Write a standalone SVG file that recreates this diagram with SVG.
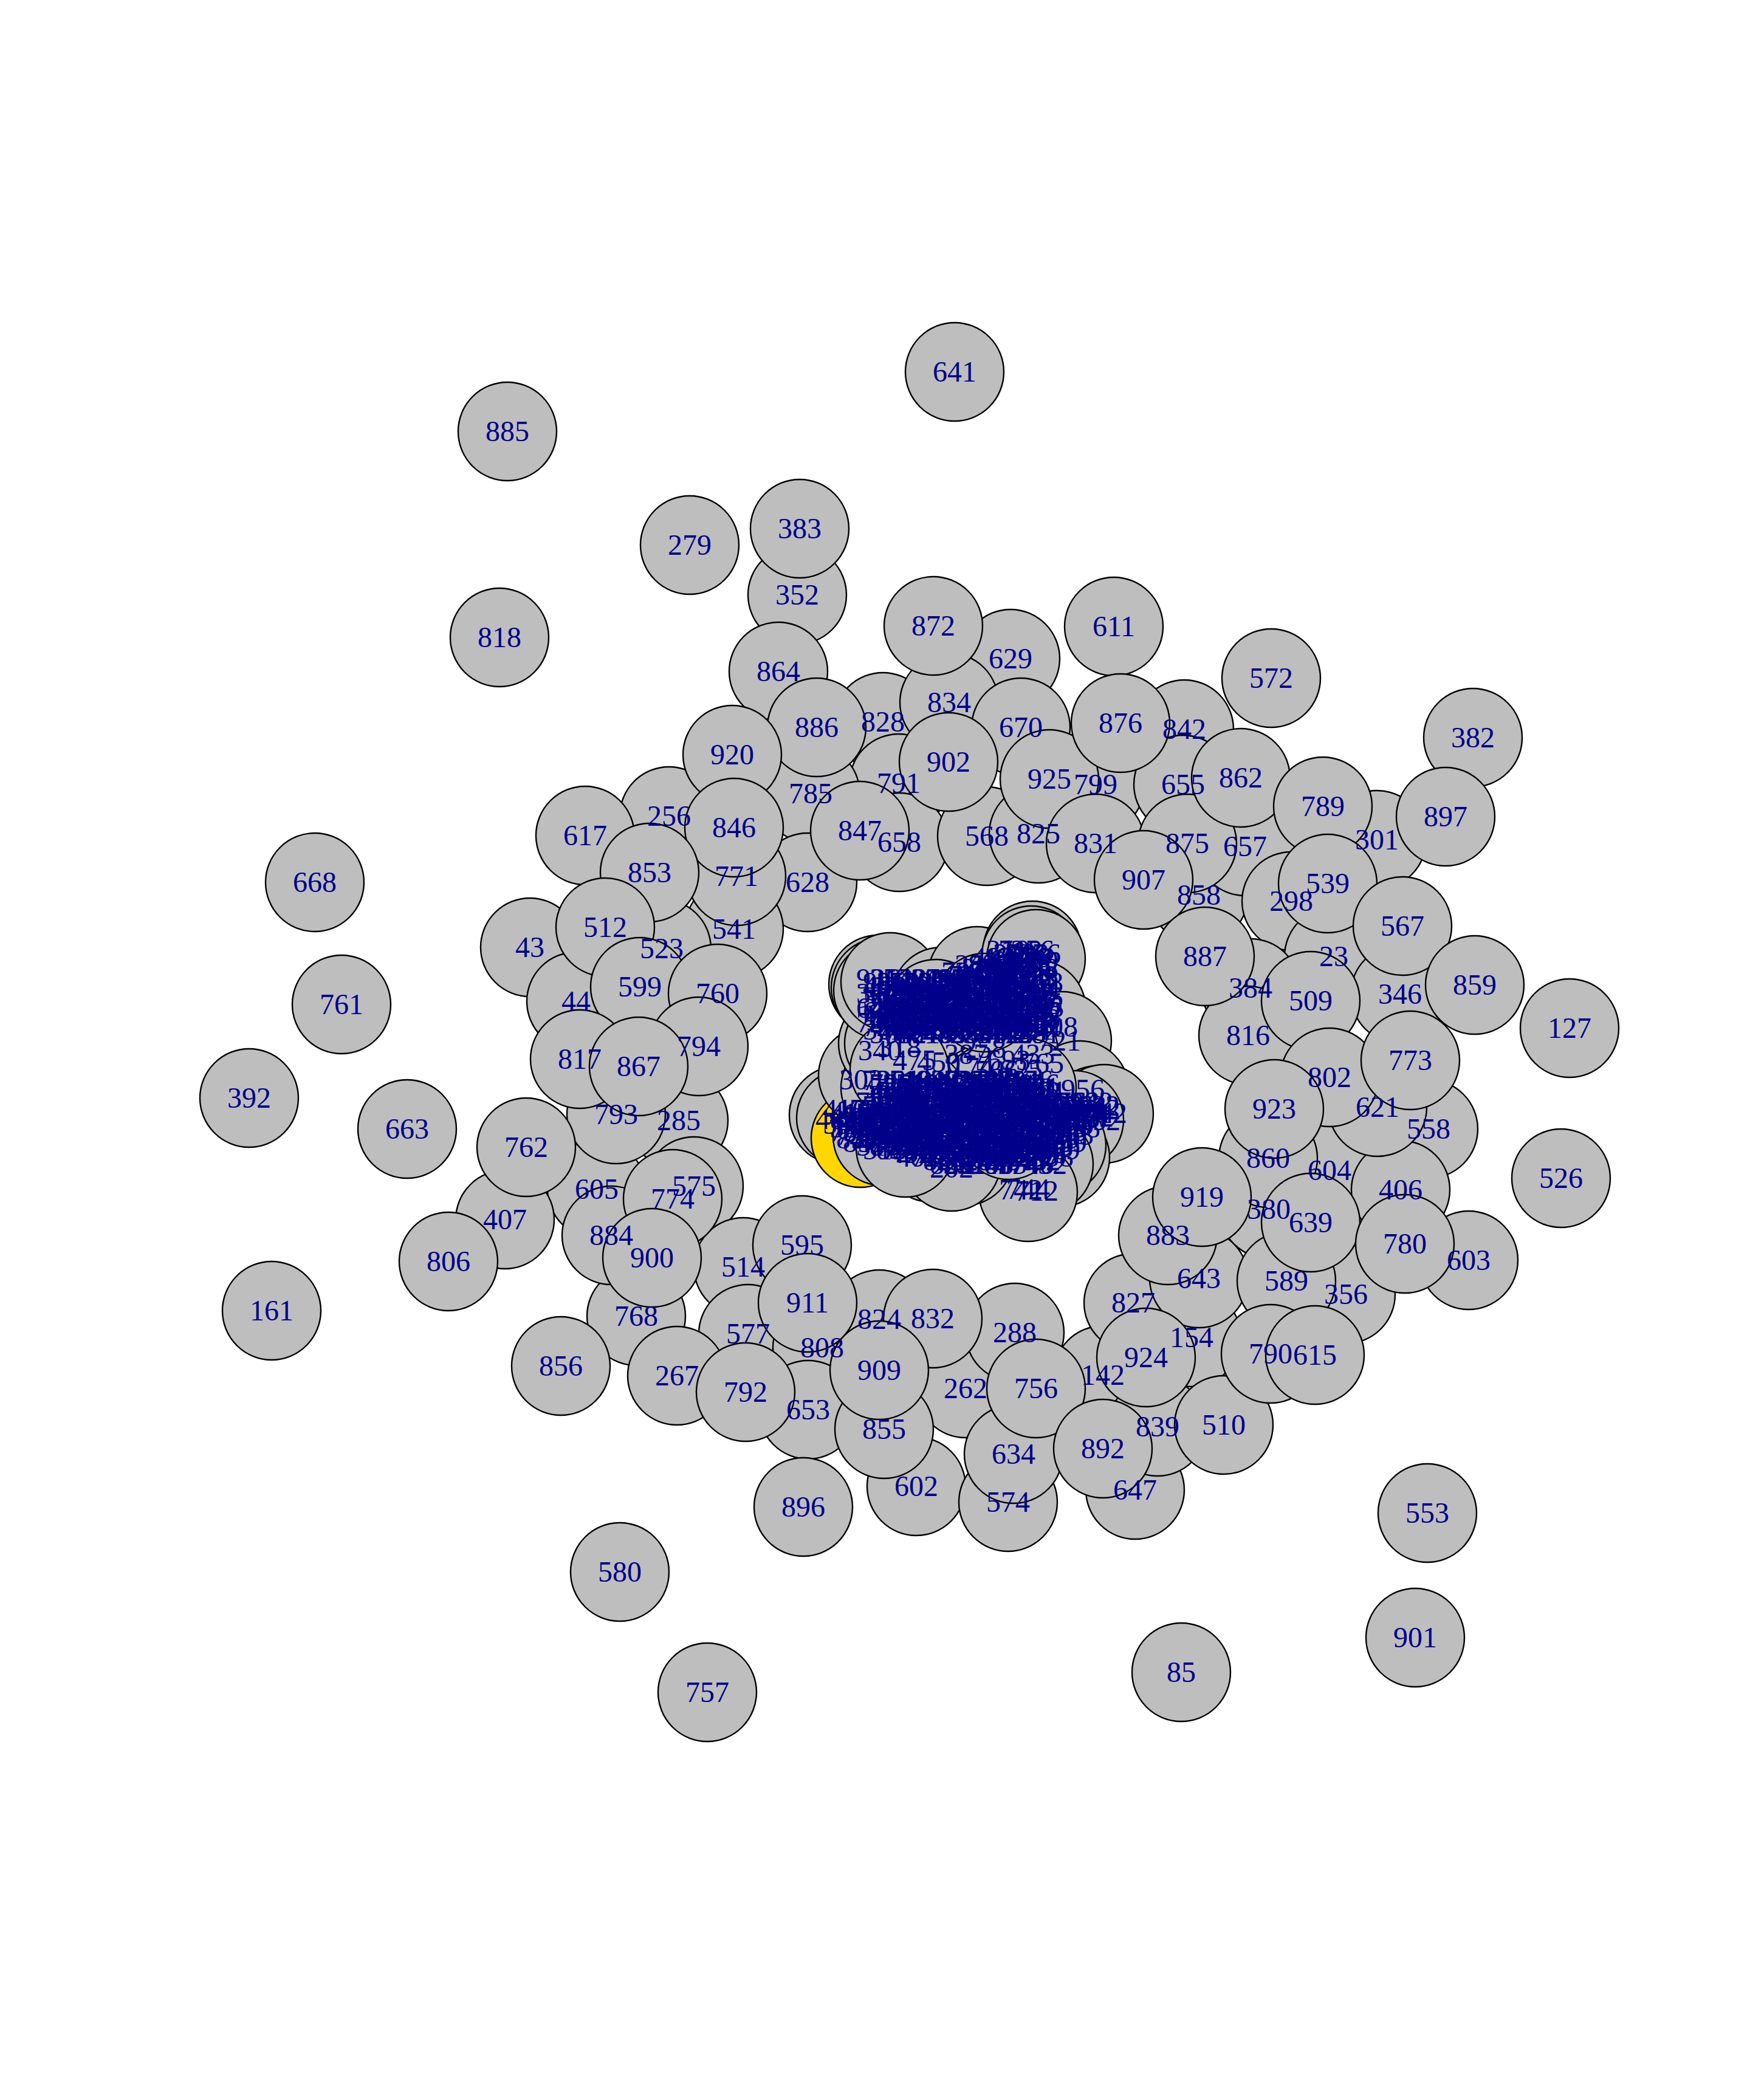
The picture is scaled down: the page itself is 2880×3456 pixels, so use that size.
<svg xmlns="http://www.w3.org/2000/svg" width="2880" height="3456" viewBox="0 0 2880 3456">
<style>
.v{fill:#BEBEBE;stroke:#000;stroke-width:2.4}
.g{fill:#FFD700;stroke:#000;stroke-width:2.4}
text{font-family:"Liberation Serif","Times New Roman",serif;font-size:48px;fill:#00008B;text-anchor:middle}
</style>
<rect width="2880" height="3456" fill="#fff"/>
<g id="edges"/>
<g id="nodes">
<g id="n352"><circle class="v" cx="1312" cy="979" r="81"/></g>
<g id="n828"><circle class="v" cx="1453" cy="1188" r="81"/></g>
<g id="n629"><circle class="v" cx="1663" cy="1084" r="81"/></g>
<g id="n791"><circle class="v" cx="1479" cy="1289" r="81"/></g>
<g id="n785"><circle class="v" cx="1334" cy="1306" r="81"/></g>
<g id="n799"><circle class="v" cx="1803" cy="1291" r="81"/></g>
<g id="n842"><circle class="v" cx="1949" cy="1200" r="81"/></g>
<g id="n655"><circle class="v" cx="1947" cy="1291" r="81"/></g>
<g id="n658"><circle class="v" cx="1480" cy="1386" r="81"/></g>
<g id="n628"><circle class="v" cx="1329" cy="1452" r="81"/></g>
<g id="n568"><circle class="v" cx="1624" cy="1376" r="81"/></g>
<g id="n858"><circle class="v" cx="1973" cy="1473" r="81"/></g>
<g id="n657"><circle class="v" cx="2049" cy="1393" r="81"/></g>
<g id="n301"><circle class="v" cx="2266" cy="1382" r="81"/></g>
<g id="n382"><circle class="v" cx="2424" cy="1214" r="81"/></g>
<g id="n298"><circle class="v" cx="2125" cy="1483" r="81"/></g>
<g id="n23"><circle class="v" cx="2195" cy="1574" r="81"/></g>
<g id="n346"><circle class="v" cx="2304" cy="1636" r="81"/></g>
<g id="n384"><circle class="v" cx="2058" cy="1626" r="81"/></g>
<g id="n256"><circle class="v" cx="1101" cy="1343" r="81"/></g>
<g id="n541"><circle class="v" cx="1208" cy="1529" r="81"/></g>
<g id="n771"><circle class="v" cx="1212" cy="1442" r="81"/></g>
<g id="n43"><circle class="v" cx="872" cy="1559" r="81"/></g>
<g id="n44"><circle class="v" cx="948" cy="1648" r="81"/></g>
<g id="n523"><circle class="v" cx="1089" cy="1561" r="81"/></g>
<g id="n285"><circle class="v" cx="1117" cy="1844" r="81"/></g>
<g id="n605"><circle class="v" cx="982" cy="1957" r="81"/></g>
<g id="n407"><circle class="v" cx="831" cy="2007" r="81"/></g>
<g id="n575"><circle class="v" cx="1142" cy="1952" r="81"/></g>
<g id="n768"><circle class="v" cx="1047" cy="2166" r="81"/></g>
<g id="n514"><circle class="v" cx="1223" cy="2085" r="81"/></g>
<g id="n577"><circle class="v" cx="1231" cy="2195" r="81"/></g>
<g id="n808"><circle class="v" cx="1353" cy="2218" r="81"/></g>
<g id="n824"><circle class="v" cx="1447" cy="2171" r="81"/></g>
<g id="n602"><circle class="v" cx="1508" cy="2446" r="81"/></g>
<g id="n653"><circle class="v" cx="1330" cy="2320" r="81"/></g>
<g id="n262"><circle class="v" cx="1589" cy="2285" r="81"/></g>
<g id="n288"><circle class="v" cx="1670" cy="2193" r="81"/></g>
<g id="n574"><circle class="v" cx="1659" cy="2472" r="81"/></g>
<g id="n647"><circle class="v" cx="1868" cy="2452" r="81"/></g>
<g id="n142"><circle class="v" cx="1815" cy="2263" r="81"/></g>
<g id="n154"><circle class="v" cx="1961" cy="2201" r="81"/></g>
<g id="n827"><circle class="v" cx="1865" cy="2144" r="81"/></g>
<g id="n643"><circle class="v" cx="1973" cy="2104" r="81"/></g>
<g id="n380"><circle class="v" cx="2088" cy="1990" r="81"/></g>
<g id="n604"><circle class="v" cx="2188" cy="1926" r="81"/></g>
<g id="n860"><circle class="v" cx="2087" cy="1906" r="81"/></g>
<g id="n558"><circle class="v" cx="2351" cy="1858" r="81"/></g>
<g id="n406"><circle class="v" cx="2305" cy="1958" r="81"/></g>
<g id="n356"><circle class="v" cx="2215" cy="2130" r="81"/></g>
<g id="n589"><circle class="v" cx="2117" cy="2108" r="81"/></g>
<g id="n816"><circle class="v" cx="2054" cy="1704" r="81"/></g>
<g id="n267"><circle class="v" cx="1114" cy="2264" r="81"/></g>
<g id="n634"><circle class="v" cx="1668" cy="2393" r="81"/></g>
<g id="n839"><circle class="v" cx="1905" cy="2348" r="81"/></g>
<g id="n603"><circle class="v" cx="2417" cy="2074" r="81"/></g>
<g id="n641"><circle class="v" cx="1571" cy="612" r="81"/></g>
<g id="n885"><circle class="v" cx="835" cy="710" r="81"/></g>
<g id="n279"><circle class="v" cx="1135" cy="897" r="81"/></g>
<g id="n818"><circle class="v" cx="822" cy="1049" r="81"/></g>
<g id="n611"><circle class="v" cx="1833" cy="1031" r="81"/></g>
<g id="n572"><circle class="v" cx="2092" cy="1116" r="81"/></g>
<g id="n668"><circle class="v" cx="518" cy="1452" r="81"/></g>
<g id="n761"><circle class="v" cx="562" cy="1653" r="81"/></g>
<g id="n392"><circle class="v" cx="410" cy="1807" r="81"/></g>
<g id="n663"><circle class="v" cx="670" cy="1858" r="81"/></g>
<g id="n161"><circle class="v" cx="447" cy="2157" r="81"/></g>
<g id="n806"><circle class="v" cx="738" cy="2076" r="81"/></g>
<g id="n856"><circle class="v" cx="923" cy="2248" r="81"/></g>
<g id="n896"><circle class="v" cx="1322" cy="2480" r="81"/></g>
<g id="n580"><circle class="v" cx="1020" cy="2587" r="81"/></g>
<g id="n757"><circle class="v" cx="1164" cy="2785" r="81"/></g>
<g id="n85"><circle class="v" cx="1944" cy="2752" r="81"/></g>
<g id="n901"><circle class="v" cx="2329" cy="2695" r="81"/></g>
<g id="n553"><circle class="v" cx="2349" cy="2490" r="81"/></g>
<g id="n510"><circle class="v" cx="2014" cy="2345" r="81"/></g>
<g id="n790"><circle class="v" cx="2091" cy="2228" r="81"/></g>
<g id="n615"><circle class="v" cx="2164" cy="2230" r="81"/></g>
<g id="n526"><circle class="v" cx="2569" cy="1939" r="81"/></g>
<g id="n127"><circle class="v" cx="2583" cy="1692" r="81"/></g>
<g id="n383"><circle class="v" cx="1316" cy="870" r="81"/></g>
<g id="n864"><circle class="v" cx="1281" cy="1105" r="81"/></g>
<g id="n886"><circle class="v" cx="1344" cy="1197" r="81"/></g>
<g id="n920"><circle class="v" cx="1205" cy="1242" r="81"/></g>
<g id="n834"><circle class="v" cx="1562" cy="1156" r="81"/></g>
<g id="n872"><circle class="v" cx="1536" cy="1030" r="81"/></g>
<g id="n670"><circle class="v" cx="1680" cy="1197" r="81"/></g>
<g id="n902"><circle class="v" cx="1561" cy="1254" r="81"/></g>
<g id="n825"><circle class="v" cx="1709" cy="1372" r="81"/></g>
<g id="n925"><circle class="v" cx="1727" cy="1282" r="81"/></g>
<g id="n831"><circle class="v" cx="1803" cy="1388" r="81"/></g>
<g id="n875"><circle class="v" cx="1954" cy="1388" r="81"/></g>
<g id="n907"><circle class="v" cx="1882" cy="1448" r="81"/></g>
<g id="n876"><circle class="v" cx="1844" cy="1190" r="81"/></g>
<g id="n862"><circle class="v" cx="2042" cy="1280" r="81"/></g>
<g id="n789"><circle class="v" cx="2177" cy="1327" r="81"/></g>
<g id="n897"><circle class="v" cx="2379" cy="1344" r="81"/></g>
<g id="n539"><circle class="v" cx="2185" cy="1454" r="81"/></g>
<g id="n567"><circle class="v" cx="2308" cy="1524" r="81"/></g>
<g id="n859"><circle class="v" cx="2427" cy="1621" r="81"/></g>
<g id="n887"><circle class="v" cx="1983" cy="1574" r="81"/></g>
<g id="n509"><circle class="v" cx="2157" cy="1647" r="81"/></g>
<g id="n617"><circle class="v" cx="963" cy="1375" r="81"/></g>
<g id="n846"><circle class="v" cx="1208" cy="1362" r="81"/></g>
<g id="n853"><circle class="v" cx="1069" cy="1436" r="81"/></g>
<g id="n847"><circle class="v" cx="1415" cy="1367" r="81"/></g>
<g id="n512"><circle class="v" cx="996" cy="1526" r="81"/></g>
<g id="n599"><circle class="v" cx="1053" cy="1624" r="81"/></g>
<g id="n760"><circle class="v" cx="1181" cy="1635" r="81"/></g>
<g id="n793"><circle class="v" cx="1014" cy="1834" r="81"/></g>
<g id="n817"><circle class="v" cx="954" cy="1743" r="81"/></g>
<g id="n794"><circle class="v" cx="1150" cy="1722" r="81"/></g>
<g id="n867"><circle class="v" cx="1051" cy="1755" r="81"/></g>
<g id="n762"><circle class="v" cx="866" cy="1888" r="81"/></g>
<g id="n884"><circle class="v" cx="1006" cy="2033" r="81"/></g>
<g id="n774"><circle class="v" cx="1107" cy="1973" r="81"/></g>
<g id="n900"><circle class="v" cx="1073" cy="2070" r="81"/></g>
<g id="n595"><circle class="v" cx="1320" cy="2049" r="81"/></g>
<g id="n911"><circle class="v" cx="1329" cy="2144" r="81"/></g>
<g id="n792"><circle class="v" cx="1227" cy="2291" r="81"/></g>
<g id="n832"><circle class="v" cx="1535" cy="2170" r="81"/></g>
<g id="n855"><circle class="v" cx="1455" cy="2352" r="81"/></g>
<g id="n909"><circle class="v" cx="1447" cy="2255" r="81"/></g>
<g id="n756"><circle class="v" cx="1705" cy="2285" r="81"/></g>
<g id="n892"><circle class="v" cx="1815" cy="2384" r="81"/></g>
<g id="n924"><circle class="v" cx="1886" cy="2234" r="81"/></g>
<g id="n883"><circle class="v" cx="1922" cy="2033" r="81"/></g>
<g id="n919"><circle class="v" cx="1978" cy="1970" r="81"/></g>
<g id="n639"><circle class="v" cx="2157" cy="2012" r="81"/></g>
<g id="n780"><circle class="v" cx="2312" cy="2047" r="81"/></g>
<g id="n621"><circle class="v" cx="2267" cy="1822" r="81"/></g>
<g id="n802"><circle class="v" cx="2188" cy="1773" r="81"/></g>
<g id="n773"><circle class="v" cx="2321" cy="1745" r="81"/></g>
<g id="n923"><circle class="v" cx="2097" cy="1825" r="81"/></g>
<g id="cluster">
<circle class="v" cx="1380" cy="1835" r="81"/>
<circle class="v" cx="1392" cy="1840" r="81"/>
<circle class="g" cx="1416" cy="1873" r="81"/>
<circle class="v" cx="1452" cy="1870" r="81"/>
<circle class="v" cx="1428" cy="1770" r="81"/>
<circle class="v" cx="1465" cy="1790" r="81"/>
<circle class="v" cx="1461" cy="1717" r="81"/>
<circle class="v" cx="1471" cy="1717" r="81"/>
<circle class="v" cx="1445" cy="1620" r="81"/>
<circle class="v" cx="1449" cy="1625" r="81"/>
<circle class="v" cx="1453" cy="1630" r="81"/>
<circle class="v" cx="1465" cy="1616" r="81"/>
<circle class="v" cx="1549" cy="1640" r="81"/>
<circle class="v" cx="1608" cy="1606" r="81"/>
<circle class="v" cx="1699" cy="1564" r="81"/>
<circle class="v" cx="1697" cy="1572" r="81"/>
<circle class="v" cx="1705" cy="1578" r="81"/>
<circle class="v" cx="1672" cy="1640" r="81"/>
<circle class="v" cx="1706" cy="1661" r="81"/>
<circle class="v" cx="1748" cy="1713" r="81"/>
<circle class="v" cx="1777" cy="1794" r="81"/>
<circle class="v" cx="1806" cy="1835" r="81"/>
<circle class="v" cx="1817" cy="1833" r="81"/>
<circle class="v" cx="1768" cy="1843" r="81"/>
<circle class="v" cx="1745" cy="1905" r="81"/>
<circle class="v" cx="1739" cy="1885" r="81"/>
<circle class="v" cx="1718" cy="1916" r="81"/>
<circle class="v" cx="1692" cy="1962" r="81"/>
<circle class="v" cx="1587" cy="1903" r="81"/>
<circle class="v" cx="1532" cy="1897" r="81"/>
<circle class="v" cx="1566" cy="1912" r="81"/>
<circle class="v" cx="1490" cy="1889" r="81"/>
<circle class="v" cx="1530" cy="1700" r="81"/>
<circle class="v" cx="1600" cy="1700" r="81"/>
<circle class="v" cx="1660" cy="1730" r="81"/>
<circle class="v" cx="1560" cy="1780" r="81"/>
<circle class="v" cx="1630" cy="1800" r="81"/>
<circle class="v" cx="1690" cy="1790" r="81"/>
<circle class="v" cx="1510" cy="1810" r="81"/>
<circle class="v" cx="1600" cy="1850" r="81"/>
<circle class="v" cx="1660" cy="1860" r="81"/>
<circle class="v" cx="1540" cy="1660" r="81"/>
<circle class="v" cx="1620" cy="1650" r="81"/>
<circle class="v" cx="1480" cy="1760" r="81"/>
</g>
</g>
<g id="labels">
<text x="1312" y="995">352</text><text x="1453" y="1204">828</text><text x="1663" y="1100">629</text><text x="1479" y="1305">791</text><text x="1334" y="1322">785</text><text x="1803" y="1307">799</text><text x="1949" y="1216">842</text><text x="1947" y="1307">655</text><text x="1480" y="1402">658</text><text x="1329" y="1468">628</text><text x="1624" y="1392">568</text><text x="1973" y="1489">858</text><text x="2049" y="1409">657</text><text x="2266" y="1398">301</text><text x="2424" y="1230">382</text><text x="2125" y="1499">298</text><text x="2195" y="1590">23</text><text x="2304" y="1652">346</text><text x="2058" y="1642">384</text><text x="1101" y="1359">256</text><text x="1208" y="1545">541</text><text x="1212" y="1458">771</text><text x="872" y="1575">43</text><text x="948" y="1664">44</text><text x="1089" y="1577">523</text><text x="1117" y="1860">285</text><text x="982" y="1973">605</text><text x="831" y="2023">407</text><text x="1142" y="1968">575</text><text x="1047" y="2182">768</text><text x="1223" y="2101">514</text><text x="1231" y="2211">577</text><text x="1353" y="2234">808</text><text x="1447" y="2187">824</text><text x="1508" y="2462">602</text><text x="1330" y="2336">653</text><text x="1589" y="2301">262</text><text x="1670" y="2209">288</text><text x="1659" y="2488">574</text><text x="1868" y="2468">647</text><text x="1815" y="2279">142</text><text x="1961" y="2217">154</text><text x="1865" y="2160">827</text><text x="1973" y="2120">643</text><text x="2088" y="2006">380</text><text x="2188" y="1942">604</text><text x="2087" y="1922">860</text><text x="2351" y="1874">558</text><text x="2305" y="1974">406</text><text x="2215" y="2146">356</text><text x="2117" y="2124">589</text><text x="2054" y="1720">816</text><text x="1114" y="2280">267</text><text x="1668" y="2409">634</text><text x="1905" y="2364">839</text><text x="2417" y="2090">603</text>
<text x="1571" y="628">641</text><text x="835" y="726">885</text><text x="1135" y="913">279</text><text x="822" y="1065">818</text><text x="1833" y="1047">611</text><text x="2092" y="1132">572</text><text x="518" y="1468">668</text><text x="562" y="1669">761</text><text x="410" y="1823">392</text><text x="670" y="1874">663</text><text x="447" y="2173">161</text><text x="738" y="2092">806</text><text x="923" y="2264">856</text><text x="1322" y="2496">896</text><text x="1020" y="2603">580</text><text x="1164" y="2801">757</text><text x="1944" y="2768">85</text><text x="2329" y="2711">901</text><text x="2349" y="2506">553</text><text x="2014" y="2361">510</text><text x="2091" y="2244">790</text><text x="2164" y="2246">615</text><text x="2569" y="1955">526</text><text x="2583" y="1708">127</text>
<text x="1316" y="886">383</text><text x="1281" y="1121">864</text><text x="1344" y="1213">886</text><text x="1205" y="1258">920</text><text x="1562" y="1172">834</text><text x="1536" y="1046">872</text><text x="1680" y="1213">670</text><text x="1561" y="1270">902</text><text x="1709" y="1388">825</text><text x="1727" y="1298">925</text><text x="1803" y="1404">831</text><text x="1954" y="1404">875</text><text x="1882" y="1464">907</text><text x="1844" y="1206">876</text><text x="2042" y="1296">862</text><text x="2177" y="1343">789</text><text x="2379" y="1360">897</text><text x="2185" y="1470">539</text><text x="2308" y="1540">567</text><text x="2427" y="1637">859</text><text x="1983" y="1590">887</text><text x="2157" y="1663">509</text>
<text x="963" y="1391">617</text><text x="1208" y="1378">846</text><text x="1069" y="1452">853</text><text x="1415" y="1383">847</text><text x="996" y="1542">512</text><text x="1053" y="1640">599</text><text x="1181" y="1651">760</text><text x="1014" y="1850">793</text><text x="954" y="1759">817</text><text x="1150" y="1738">794</text><text x="1051" y="1771">867</text><text x="866" y="1904">762</text><text x="1006" y="2049">884</text><text x="1107" y="1989">774</text><text x="1073" y="2086">900</text><text x="1320" y="2065">595</text><text x="1329" y="2160">911</text><text x="1227" y="2307">792</text><text x="1535" y="2186">832</text><text x="1455" y="2368">855</text><text x="1447" y="2271">909</text><text x="1705" y="2301">756</text><text x="1815" y="2400">892</text><text x="1886" y="2250">924</text><text x="1922" y="2049">883</text><text x="1978" y="1986">919</text><text x="2157" y="2028">639</text><text x="2312" y="2063">780</text><text x="2267" y="1838">621</text><text x="2188" y="1789">802</text><text x="2321" y="1761">773</text><text x="2097" y="1841">923</text>
<g id="cluster-fill" transform="translate(-5,-3)">
<text x="1664" y="1583">219</text><text x="1684" y="1583">718</text><text x="1704" y="1583">356</text>
<text x="1640" y="1595">493</text><text x="1660" y="1595">137</text><text x="1680" y="1595">662</text><text x="1700" y="1595">929</text>
<text x="1612" y="1607">274</text><text x="1634" y="1607">837</text><text x="1656" y="1607">416</text><text x="1678" y="1607">563</text><text x="1700" y="1607">198</text>
<text x="1590" y="1619">702</text><text x="1612" y="1619">345</text><text x="1634" y="1619">916</text><text x="1656" y="1619">253</text><text x="1678" y="1619">474</text><text x="1700" y="1619">133</text>
<text x="1450" y="1630">936</text><text x="1472" y="1630">312</text><text x="1494" y="1630">548</text><text x="1516" y="1630">227</text><text x="1538" y="1630">689</text><text x="1560" y="1630">413</text><text x="1582" y="1630">970</text><text x="1604" y="1630">155</text><text x="1626" y="1630">382</text><text x="1648" y="1630">604</text><text x="1670" y="1630">291</text><text x="1692" y="1630">737</text><text x="1708" y="1630">518</text>
<text x="1461" y="1642">463</text><text x="1483" y="1642">829</text><text x="1505" y="1642">174</text><text x="1527" y="1642">595</text><text x="1549" y="1642">348</text><text x="1571" y="1642">716</text><text x="1593" y="1642">202</text><text x="1615" y="1642">851</text><text x="1637" y="1642">437</text><text x="1659" y="1642">669</text><text x="1681" y="1642">123</text><text x="1703" y="1642">894</text>
<text x="1450" y="1654">317</text><text x="1472" y="1654">746</text><text x="1494" y="1654">288</text><text x="1516" y="1654">531</text><text x="1538" y="1654">905</text><text x="1560" y="1654">162</text><text x="1582" y="1654">674</text><text x="1604" y="1654">439</text><text x="1626" y="1654">853</text><text x="1648" y="1654">216</text><text x="1670" y="1654">578</text><text x="1692" y="1654">943</text><text x="1708" y="1654">705</text>
<text x="1461" y="1666">527</text><text x="1483" y="1666">194</text><text x="1505" y="1666">638</text><text x="1527" y="1666">371</text><text x="1549" y="1666">816</text><text x="1571" y="1666">249</text><text x="1593" y="1666">592</text><text x="1615" y="1666">137</text><text x="1637" y="1666">764</text><text x="1659" y="1666">485</text><text x="1681" y="1666">931</text><text x="1703" y="1666">326</text>
<text x="1450" y="1678">648</text><text x="1472" y="1678">279</text><text x="1494" y="1678">514</text><text x="1516" y="1678">903</text><text x="1538" y="1678">236</text><text x="1560" y="1678">745</text><text x="1582" y="1678">172</text><text x="1604" y="1678">589</text><text x="1626" y="1678">463</text><text x="1648" y="1678">821</text><text x="1670" y="1678">357</text><text x="1692" y="1678">696</text><text x="1708" y="1678">242</text>
<text x="1461" y="1690">118</text><text x="1483" y="1690">587</text><text x="1505" y="1690">334</text><text x="1527" y="1690">769</text><text x="1549" y="1690">425</text><text x="1571" y="1690">952</text><text x="1593" y="1690">206</text><text x="1615" y="1690">644</text><text x="1637" y="1690">379</text><text x="1659" y="1690">835</text><text x="1681" y="1690">163</text><text x="1703" y="1690">498</text>
<text x="1450" y="1702">731</text><text x="1472" y="1702">265</text><text x="1494" y="1702">496</text><text x="1516" y="1702">148</text><text x="1538" y="1702">683</text><text x="1560" y="1702">319</text><text x="1582" y="1702">874</text><text x="1604" y="1702">557</text><text x="1626" y="1702">226</text><text x="1648" y="1702">713</text><text x="1670" y="1702">449</text><text x="1692" y="1702">186</text><text x="1708" y="1702">620</text>
<text x="1461" y="1714">305</text><text x="1483" y="1714">742</text><text x="1505" y="1714">171</text><text x="1527" y="1714">618</text><text x="1549" y="1714">453</text><text x="1571" y="1714">895</text><text x="1593" y="1714">234</text><text x="1615" y="1714">566</text><text x="1637" y="1714">312</text><text x="1659" y="1714">748</text><text x="1681" y="1714">129</text><text x="1703" y="1714">581</text>
<text x="1460" y="1797">728</text><text x="1482" y="1797">361</text><text x="1504" y="1797">549</text><text x="1526" y="1797">192</text><text x="1548" y="1797">836</text><text x="1570" y="1797">473</text><text x="1592" y="1797">615</text><text x="1614" y="1797">248</text><text x="1636" y="1797">947</text><text x="1658" y="1797">389</text><text x="1680" y="1797">714</text><text x="1702" y="1797">156</text>
<text x="1471" y="1809">583</text><text x="1493" y="1809">217</text><text x="1515" y="1809">946</text><text x="1537" y="1809">471</text><text x="1559" y="1809">328</text><text x="1581" y="1809">765</text><text x="1603" y="1809">139</text><text x="1625" y="1809">692</text><text x="1647" y="1809">415</text><text x="1669" y="1809">854</text><text x="1691" y="1809">276</text><text x="1713" y="1809">531</text>
<text x="1460" y="1821">364</text><text x="1482" y="1821">912</text><text x="1504" y="1821">457</text><text x="1526" y="1821">183</text><text x="1548" y="1821">629</text><text x="1570" y="1821">745</text><text x="1592" y="1821">298</text><text x="1614" y="1821">836</text><text x="1636" y="1821">512</text><text x="1658" y="1821">167</text><text x="1680" y="1821">703</text><text x="1702" y="1821">449</text>
<text x="1449" y="1833">702</text><text x="1471" y="1833">758</text><text x="1493" y="1833">195</text><text x="1515" y="1833">437</text><text x="1537" y="1833">681</text><text x="1559" y="1833">316</text><text x="1581" y="1833">813</text><text x="1603" y="1833">569</text><text x="1625" y="1833">224</text><text x="1647" y="1833">941</text><text x="1669" y="1833">372</text><text x="1691" y="1833">618</text><text x="1713" y="1833">147</text><text x="1735" y="1833">495</text><text x="1757" y="1833">836</text><text x="1779" y="1833">263</text><text x="1801" y="1833">942</text>
<text x="1395" y="1845">416</text><text x="1417" y="1845">139</text><text x="1439" y="1845">754</text><text x="1461" y="1845">293</text><text x="1483" y="1845">628</text><text x="1505" y="1845">571</text><text x="1527" y="1845">845</text><text x="1549" y="1845">362</text><text x="1571" y="1845">917</text><text x="1593" y="1845">184</text><text x="1615" y="1845">537</text><text x="1637" y="1845">426</text><text x="1659" y="1845">769</text><text x="1681" y="1845">213</text><text x="1703" y="1845">681</text><text x="1725" y="1845">348</text><text x="1747" y="1845">592</text><text x="1769" y="1845">137</text><text x="1791" y="1845">874</text><text x="1813" y="1845">912</text>
<text x="1406" y="1857">457</text><text x="1428" y="1857">218</text><text x="1450" y="1857">693</text><text x="1472" y="1857">546</text><text x="1494" y="1857">371</text><text x="1516" y="1857">824</text><text x="1538" y="1857">165</text><text x="1560" y="1857">739</text><text x="1582" y="1857">482</text><text x="1604" y="1857">256</text><text x="1626" y="1857">613</text><text x="1648" y="1857">947</text><text x="1670" y="1857">328</text><text x="1692" y="1857">751</text><text x="1714" y="1857">194</text><text x="1736" y="1857">567</text><text x="1758" y="1857">435</text><text x="1780" y="1857">819</text><text x="1802" y="1857">262</text>
<text x="1395" y="1869">538</text><text x="1417" y="1869">863</text><text x="1439" y="1869">271</text><text x="1461" y="1869">645</text><text x="1483" y="1869">319</text><text x="1505" y="1869">782</text><text x="1527" y="1869">456</text><text x="1549" y="1869">124</text><text x="1571" y="1869">697</text><text x="1593" y="1869">843</text><text x="1615" y="1869">216</text><text x="1637" y="1869">574</text><text x="1659" y="1869">368</text><text x="1681" y="1869">935</text><text x="1703" y="1869">241</text><text x="1725" y="1869">617</text><text x="1747" y="1869">493</text><text x="1769" y="1869">158</text>
<text x="1406" y="1881">774</text><text x="1428" y="1881">326</text><text x="1450" y="1881">591</text><text x="1472" y="1881">148</text><text x="1494" y="1881">863</text><text x="1516" y="1881">437</text><text x="1538" y="1881">219</text><text x="1560" y="1881">685</text><text x="1582" y="1881">352</text><text x="1604" y="1881">746</text><text x="1626" y="1881">173</text><text x="1648" y="1881">598</text><text x="1670" y="1881">284</text><text x="1692" y="1881">931</text><text x="1714" y="1881">467</text><text x="1736" y="1881">715</text><text x="1758" y="1881">243</text>
<text x="1417" y="1893">857</text><text x="1439" y="1893">412</text><text x="1461" y="1893">736</text><text x="1483" y="1893">295</text><text x="1505" y="1893">478</text><text x="1527" y="1893">164</text><text x="1549" y="1893">629</text><text x="1571" y="1893">813</text><text x="1593" y="1893">357</text><text x="1615" y="1893">542</text><text x="1637" y="1893">176</text><text x="1659" y="1893">934</text><text x="1681" y="1893">461</text><text x="1703" y="1893">287</text><text x="1725" y="1893">653</text><text x="1747" y="1893">739</text>
<text x="1450" y="1905">315</text><text x="1472" y="1905">874</text><text x="1494" y="1905">426</text><text x="1516" y="1905">568</text><text x="1538" y="1905">172</text><text x="1560" y="1905">749</text><text x="1582" y="1905">293</text><text x="1604" y="1905">615</text><text x="1626" y="1905">138</text><text x="1648" y="1905">482</text><text x="1670" y="1905">726</text><text x="1692" y="1905">354</text><text x="1714" y="1905">917</text><text x="1736" y="1905">569</text>
<text x="1505" y="1917">472</text><text x="1527" y="1917">618</text><text x="1549" y="1917">135</text><text x="1571" y="1917">847</text><text x="1593" y="1917">396</text><text x="1615" y="1917">253</text><text x="1637" y="1917">781</text><text x="1659" y="1917">464</text><text x="1681" y="1917">129</text><text x="1703" y="1917">597</text><text x="1725" y="1917">338</text>
<text x="1560" y="1929">826</text><text x="1582" y="1929">367</text><text x="1604" y="1929">519</text><text x="1626" y="1929">248</text><text x="1648" y="1929">693</text><text x="1670" y="1929">174</text><text x="1692" y="1929">746</text><text x="1714" y="1929">432</text>
</g>
<use href="#cluster-fill" x="11" y="6"/>
<g id="cluster-edge-labels">
<text x="1715" y="1674">193</text><text x="1738" y="1706">718</text><text x="1743" y="1729">721</text><text x="1715" y="1766">765</text>
<text x="1448" y="1745">340</text><text x="1480" y="1740">318</text><text x="1505" y="1761">475</text><text x="1545" y="1764">450</text><text x="1590" y="1751">387</text><text x="1620" y="1741">258</text><text x="1600" y="1773">174</text><text x="1640" y="1778">566</text><text x="1660" y="1761">693</text><text x="1680" y="1776">625</text><text x="1700" y="1751">433</text>
<text x="1417" y="1793">303</text><text x="1782" y="1809">956</text><text x="1378" y="1858">481</text>
<text x="1566" y="1938">202</text><text x="1680" y="1974">742</text><text x="1692" y="1973">744</text><text x="1706" y="1976">712</text>
</g>
</g>
</svg>
